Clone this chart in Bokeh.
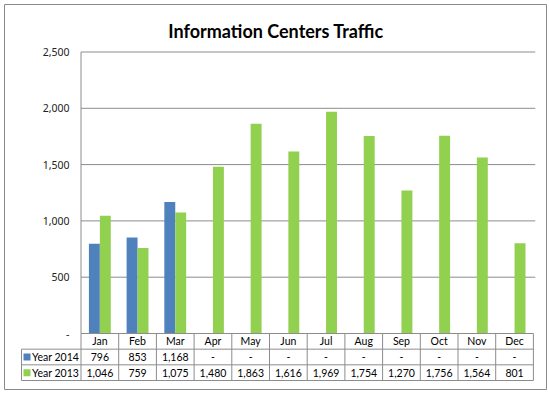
import numpy as np
from bokeh.plotting import figure
from bokeh.models import Range1d, FixedTicker, NumeralTickFormatter, ColumnDataSource, Label
from bokeh.transform import dodge
from bokeh.core.properties import value
from bokeh.embed import file_html
from bokeh.resources import INLINE

# ---------------- data ----------------
title_text = "Information Centers Traffic"
months = ["Jan", "Feb", "Mar", "Apr", "May", "Jun", "Jul", "Aug", "Sep", "Oct", "Nov", "Dec"]
year_2014 = [796, 853, 1168]          # Jan..Mar only
year_2013 = [1046, 759, 1075, 1480, 1863, 1616, 1969, 1754, 1270, 1756, 1564, 801]
series_names = ["Year 2014", "Year 2013"]
series_colors = ["#4F81BD", "#92D050"]
y_ticks = [0, 500, 1000, 1500, 2000, 2500]

# ---------------- layout constants (pixels) ----------------
W, H = 549, 393
FR_L, FR_R, FR_T, FR_B = 4, 546, 4, 389        # chart border = plot frame
PLOT_L = 80.5                                   # plot-area left edge
TABLE_L = 21                                    # data-table left edge
COL_PX = 37.7                                   # one month column
ZERO_Y = 333                                    # pixel row of value 0
TOP_Y = 51.5                                    # pixel row of value 2500
TABLE_B = 380                                   # data-table bottom
ROW_PX = (TABLE_B - ZERO_Y) / 3.0
TITLE_CX, TITLE_BASE = 275.5, 30.5

FRAME_W = FR_R - FR_L
FRAME_H = FR_B - FR_T
X0 = -0.5 - (PLOT_L - FR_L) / COL_PX
X1 = X0 + FRAME_W / COL_PX
X_TBL = -0.5 - (PLOT_L - TABLE_L) / COL_PX
U = y_ticks[-1] / (ZERO_Y - TOP_Y)              # value units per pixel
Y0 = -(FR_B - ZERO_Y) * U
Y1 = (ZERO_Y - FR_T) * U
T0 = -(FR_B - TABLE_B) / ROW_PX
T1 = T0 + FRAME_H / ROW_PX

GRID = "#8c8c8c"

p = figure(width=W, height=H, output_backend="svg", toolbar_location=None,
           x_range=Range1d(X0, X1), y_range=Range1d(Y0, Y1),
           min_border_left=FR_L, min_border_right=W - FR_R,
           min_border_top=FR_T, min_border_bottom=H - FR_B,
           x_axis_location=None)
p.extra_y_ranges = {"tbl": Range1d(T0, T1)}
p.xgrid.visible = False
p.ygrid.visible = False
p.outline_line_color = "#8a8a8a"
p.outline_line_width = 1
p.background_fill_color = "white"
p.border_fill_color = "white"

# title
p.add_layout(Label(x=X0 + (TITLE_CX - FR_L) / COL_PX, y=Y1 - (TITLE_BASE - FR_T) * U,
                   text=title_text, text_align="center", text_baseline="alphabetic",
                   text_font="Lato", text_font_style="bold", text_font_size="18px",
                   text_color="black"))

# value axis
ax = p.yaxis[0]
ax.ticker = FixedTicker(ticks=y_ticks)
ax.formatter = NumeralTickFormatter(format="0,0")
ax.major_label_overrides = {0: "-"}
ax.axis_line_color = None
ax.major_tick_line_color = None
ax.minor_tick_line_color = None
ax.major_tick_out = 0
ax.major_tick_in = 0
ax.major_label_standoff = -65
ax.major_label_text_font = "Noto Sans"
ax.major_label_text_font_size = "10.5px"
ax.major_label_text_color = "#222222"

n = len(months)
idx = list(range(n))

# gridlines (from ticks) and plot-area left edge
p.segment(x0=-0.5, x1=n - 0.45, y0=y_ticks[1:], y1=y_ticks[1:], line_color=GRID, line_width=1)
p.segment(x0=-0.5, x1=-0.5, y0=0, y1=y_ticks[-1], line_color=GRID, line_width=1)

# bars
src13 = ColumnDataSource(dict(x=idx, top=year_2013))
src14 = ColumnDataSource(dict(x=idx[:len(year_2014)], top=year_2014))
p.vbar(x=dodge("x", -0.145), top="top", width=0.29, bottom=0, source=src14,
       fill_color=series_colors[0], line_color=None)
p.vbar(x=dodge("x", 0.145), top="top", width=0.29, bottom=0, source=src13,
       fill_color=series_colors[1], line_color=None)

# ---------------- data table ----------------
edges = [i - 0.5 for i in range(n + 1)]
p.segment(x0=edges, x1=edges, y0=0, y1=3, y_range_name="tbl", line_color=GRID)
p.segment(x0=X_TBL, x1=X_TBL, y0=0, y1=2, y_range_name="tbl", line_color=GRID)
p.segment(x0=X_TBL, x1=n - 0.5, y0=[0, 1, 2], y1=[0, 1, 2], y_range_name="tbl", line_color=GRID)
p.segment(x0=-0.5, x1=n - 0.5, y0=3, y1=3, y_range_name="tbl", line_color=GRID)

row14 = ["{:,}".format(v) for v in year_2014] + ["-"] * (n - len(year_2014))
row13 = ["{:,}".format(v) for v in year_2013]
tsrc = ColumnDataSource(dict(x=idx, m=months, r14=row14, r13=row13))
common = dict(source=tsrc, y_range_name="tbl", text_align="center", text_baseline="middle",
              text_font=value("Lato"), text_font_size="10.5px", text_color="black")
p.text(x="x", y=2.5, text="m", **common)
p.text(x="x", y=1.5, text="r14", **common)
p.text(x="x", y=0.5, text="r13", **common)

lsrc = ColumnDataSource(dict(y=[1.5, 0.5], name=series_names, c=series_colors))
p.scatter(x=X_TBL + 5.5 / COL_PX, y="y", marker="square", size=7, fill_color="c",
          line_color=None, source=lsrc, y_range_name="tbl")
p.text(x=X_TBL + 10.5 / COL_PX, y="y", text="name", source=lsrc, y_range_name="tbl",
       text_align="left", text_baseline="middle", text_font=value("Lato"),
       text_font_size="10.5px", text_color="black")

open("out.html", "w").write(file_html(p, INLINE))
